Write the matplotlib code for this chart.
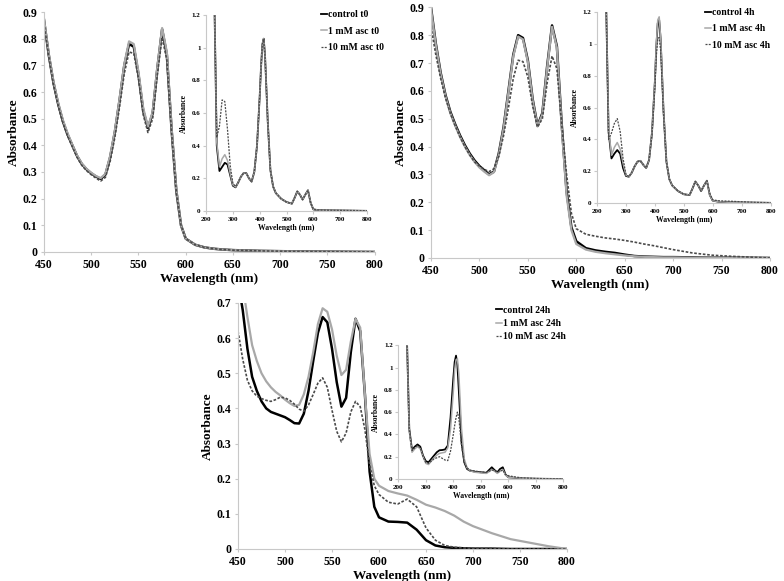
import matplotlib
matplotlib.use('Agg')
import matplotlib.pyplot as plt
from matplotlib.ticker import FuncFormatter

plt.rcParams['font.family'] = ['Liberation Serif', 'DejaVu Serif']
plt.rcParams['font.weight'] = 'bold'
plt.rcParams['axes.labelweight'] = 'bold'

# main panels: 450-800 nm
wl_main = [450, 455, 460, 465, 470, 475, 480, 485, 490, 495,
           500, 505, 510, 515, 520, 525, 530, 535, 540, 545,
           550, 555, 560, 565, 570, 575, 580, 585, 590, 595,
           600, 610, 620, 630, 640, 650, 660, 670, 680, 690,
           700, 720, 740, 760, 780, 800]

t0_control = [.87, .74, .635, .555, .49, .44, .40, .36, .33, .31,
              .295, .283, .274, .29, .355, .45, .57, .70, .78, .77,
              .665, .53, .465, .52, .69, .835, .74, .46, .23, .10,
              .05, .027, .017, .012, .009, .007, .006, .005, .004, .0035,
              .003, .002, .0015, .001, .0005, 0]
t0_1mM = [.875, .745, .64, .56, .495, .445, .402, .362, .332, .312,
          .297, .285, .277, .293, .36, .455, .575, .705, .79, .78,
          .675, .54, .47, .525, .695, .84, .75, .465, .235, .10,
          .05, .027, .017, .012, .009, .007, .006, .005, .004, .0035,
          .003, .002, .0015, .001, .0005, 0]
t0_10mM = [.86, .735, .63, .55, .485, .435, .395, .355, .325, .305,
           .29, .277, .266, .28, .34, .43, .545, .67, .75, .745,
           .65, .515, .448, .50, .665, .805, .72, .45, .225, .10,
           .05, .027, .017, .012, .009, .007, .006, .005, .004, .0035,
           .003, .002, .0015, .001, .0005, 0]

t4_control = [.90, .77, .665, .585, .525, .48, .44, .405, .375, .35,
              .33, .315, .30, .31, .375, .47, .60, .73, .80, .79,
              .71, .57, .475, .52, .69, .835, .76, .48, .24, .11,
              .06, .035, .027, .022, .018, .012, .007, .005, .004, .003,
              .003, .002, .001, .001, .0005, 0]
t4_1mM = [.895, .765, .66, .58, .52, .475, .435, .40, .37, .345,
          .325, .31, .297, .308, .37, .465, .595, .725, .795, .785,
          .705, .565, .472, .515, .685, .83, .755, .47, .225, .10,
          .05, .03, .022, .017, .013, .009, .006, .004, .003, .002,
          .002, .001, .001, .0005, 0, 0]
t4_10mM = [.83, .73, .645, .575, .52, .475, .435, .40, .37, .345,
           .33, .318, .31, .32, .365, .44, .54, .645, .71, .705,
           .65, .545, .47, .50, .63, .725, .68, .48, .30, .16,
           .105, .085, .078, .072, .068, .063, .057, .05, .044, .037,
           .03, .018, .01, .006, .003, 0]

t24_control = [.76, .68, .57, .49, .45, .42, .40, .39, .385, .38,
               .375, .367, .358, .357, .385, .45, .535, .615, .66, .645,
               .57, .475, .405, .43, .56, .655, .62, .44, .22, .12,
               .09, .078, .077, .075, .055, .025, .01, .005, .003, .002,
               .001, .001, 0, 0, 0, 0]
t24_1mM = [.82, .75, .66, .58, .535, .50, .477, .46, .447, .437,
           .425, .415, .407, .41, .44, .49, .56, .64, .685, .675,
           .625, .55, .495, .51, .59, .655, .63, .44, .27, .20,
           .18, .165, .158, .152, .14, .126, .118, .108, .095, .078,
           .065, .045, .028, .018, .008, 0]
t24_10mM = [.62, .54, .48, .45, .435, .428, .423, .42, .425, .432,
            .43, .423, .412, .398, .392, .41, .44, .472, .487, .46,
            .395, .335, .305, .33, .39, .42, .405, .34, .24, .18,
            .155, .133, .128, .142, .12, .06, .025, .01, .005, .003,
            .002, .001, 0, 0, 0, 0]

# insets: 230-800 nm
wl_ins = [230, 240, 250, 260, 270, 280, 290, 300, 310, 320,
          330, 340, 350, 360, 370, 380, 390, 400, 405, 410,
          415, 420, 430, 440, 450, 460, 480, 500, 520, 530,
          540, 550, 560, 570, 580, 590, 600, 620, 650, 700,
          750, 800]

in_t0_control = [1.4, .40, .245, .27, .295, .285, .22, .155, .145, .175,
                 .21, .232, .232, .20, .18, .24, .40, .70, .88, 1.02,
                 1.055, .95, .55, .25, .15, .11, .075, .055, .045, .08,
                 .12, .10, .07, .10, .127, .05, .01, .005, .004, .003,
                 .002, .001]
in_t0_1mM = [1.4, .42, .27, .32, .345, .31, .23, .16, .147, .175,
             .21, .232, .232, .20, .18, .24, .40, .70, .88, 1.02,
             1.055, .95, .55, .25, .15, .11, .075, .055, .045, .08,
             .12, .10, .07, .10, .127, .05, .01, .005, .004, .003,
             .002, .001]
in_t0_10mM = [1.4, .45, .52, .68, .67, .50, .28, .17, .15, .175,
              .21, .232, .232, .20, .18, .24, .40, .70, .88, 1.02,
              1.05, .95, .55, .25, .15, .11, .075, .055, .045, .08,
              .12, .10, .07, .10, .127, .05, .01, .006, .005, .004,
              .003, .002]

in_t4_control = [1.4, .45, .28, .31, .333, .31, .22, .17, .165, .19,
                 .23, .26, .265, .24, .22, .27, .44, .76, .98, 1.13,
                 1.15, 1.03, .58, .26, .15, .11, .075, .055, .05, .09,
                 .135, .11, .075, .11, .14, .05, .015, .008, .005, .003,
                 .002, .001]
in_t4_1mM = [1.4, .47, .30, .35, .38, .34, .25, .175, .165, .19,
             .23, .26, .265, .24, .22, .27, .44, .76, .99, 1.15,
             1.17, 1.04, .58, .26, .15, .11, .075, .055, .05, .09,
             .135, .11, .075, .11, .14, .05, .015, .008, .005, .003,
             .002, .001]
in_t4_10mM = [1.4, .40, .44, .50, .53, .45, .28, .18, .165, .19,
              .23, .26, .265, .24, .22, .27, .43, .72, .92, 1.03,
              1.04, .96, .56, .26, .15, .11, .075, .055, .05, .09,
              .135, .11, .075, .11, .14, .06, .02, .014, .012, .008,
              .004, .002]

in_t24_control = [1.4, .45, .26, .29, .31, .29, .21, .16, .15, .18,
                  .21, .24, .258, .26, .265, .30, .55, .90, 1.05, 1.107,
                  1.02, .80, .33, .15, .09, .075, .065, .06, .055, .08,
                  .105, .08, .06, .09, .105, .04, .015, .012, .005, .002,
                  .001, 0]
in_t24_1mM = [1.4, .43, .24, .27, .29, .27, .20, .14, .13, .16,
              .19, .215, .23, .235, .24, .28, .45, .78, .98, 1.07,
              1.08, .95, .45, .18, .10, .075, .06, .055, .05, .065,
              .085, .07, .05, .07, .085, .035, .015, .012, .006, .003,
              .001, 0]
in_t24_10mM = [1.4, .44, .255, .28, .30, .28, .20, .15, .14, .16,
               .18, .19, .20, .185, .17, .165, .25, .40, .48, .55,
               .60, .55, .30, .15, .10, .08, .07, .065, .06, .07,
               .08, .075, .06, .07, .08, .04, .03, .02, .01, .005,
               .002, 0]

labels_t0 = ['control t0', '1 mM asc t0', '10 mM asc t0']
labels_4h = ['control 4h', '1 mM asc 4h', '10 mM asc 4h']
labels_24h = ['control 24h', '1 mM asc 24h', '10 mM asc 24h']

colors = ['black', '#a8a8a8', '#4a4a4a']
styles = ['-', '-', (0, (1.6, 1.0))]
gfmt = FuncFormatter(lambda v, p: f'{v:g}')

fig = plt.figure(figsize=(7.84, 5.81), dpi=100)


def style_axes(ax, tick_fs, pad):
    for s in ['top', 'right']:
        ax.spines[s].set_visible(False)
    for s in ['left', 'bottom']:
        ax.spines[s].set_color('#c8c8c8')
        ax.spines[s].set_linewidth(0.8)
    ax.tick_params(length=2, color='#c8c8c8', labelsize=tick_fs, pad=pad)
    ax.yaxis.set_major_formatter(gfmt)
    ax.set_facecolor('none')


def draw_main(rect, series, ymax):
    ax = fig.add_axes(rect)
    lws = [1.8, 1.6, 1.2]
    for y, c, ls, lw in zip(series, colors, styles, lws):
        ax.plot(wl_main, y, color=c, linestyle=ls, linewidth=lw)
    ax.set_xlim(450, 800)
    ax.set_ylim(0, ymax)
    ax.set_xticks(range(450, 801, 50))
    ax.set_yticks([i / 10 for i in range(int(round(ymax * 10)) + 1)])
    style_axes(ax, 8.5, 3)
    ax.set_xlabel('Wavelength (nm)', fontsize=9.5, labelpad=1.5)
    ax.set_ylabel('Absorbance', fontsize=9.5, labelpad=2)
    return ax


def draw_inset(rect, series, labels, leg_xy, leg_space):
    ax = fig.add_axes(rect)
    lws = [1.3, 1.1, 0.9]
    for y, c, ls, lw, lab in zip(series, colors, styles, lws, labels):
        ax.plot(wl_ins, y, color=c, linestyle=ls, linewidth=lw, label=lab)
    ax.set_xlim(200, 800)
    ax.set_ylim(0, 1.2)
    ax.set_xticks(range(200, 801, 100))
    ax.set_yticks([0, 0.2, 0.4, 0.6, 0.8, 1.0, 1.2])
    style_axes(ax, 5, 2)
    ax.set_xlabel('Wavelength (nm)', fontsize=5.5, labelpad=2)
    ax.set_ylabel('Absorbance', fontsize=5.5, labelpad=3)
    ax.legend(loc='upper left', bbox_to_anchor=leg_xy, bbox_transform=fig.transFigure,
              frameon=False, fontsize=7, handlelength=0.6, handletextpad=0.1,
              labelspacing=leg_space, borderpad=0, borderaxespad=0)
    return ax


draw_main([0.0561, 0.5663, 0.4219, 0.4130], [t0_control, t0_1mM, t0_10mM], 0.9)
draw_inset([0.2628, 0.6368, 0.2053, 0.3374], [in_t0_control, in_t0_1mM, in_t0_10mM],
           labels_t0, (0.410, 0.982), 0.75)

draw_main([0.5497, 0.5560, 0.4324, 0.4314], [t4_control, t4_1mM, t4_10mM], 0.9)
draw_inset([0.7615, 0.6506, 0.2213, 0.3287], [in_t4_control, in_t4_1mM, in_t4_10mM],
           labels_4h, (0.899, 0.986), 0.75)

draw_main([0.3036, 0.0551, 0.4196, 0.4234], [t24_control, t24_1mM, t24_10mM], 0.7)
draw_inset([0.5080, 0.1756, 0.2105, 0.2301], [in_t24_control, in_t24_1mM, in_t24_10mM],
           labels_24h, (0.633, 0.474), 0.45)

fig.savefig('out.png', dpi=100)
